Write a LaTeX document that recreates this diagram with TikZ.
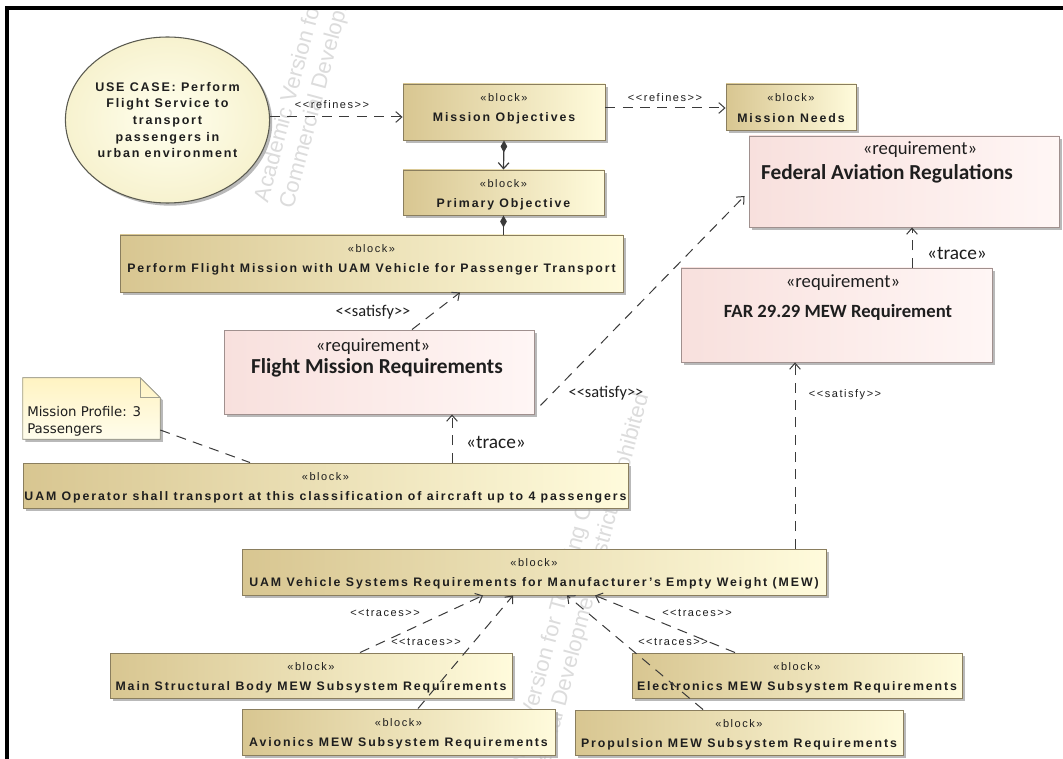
\documentclass[tikz,border=0pt]{standalone}
\usepackage{fontspec}
\newfontfamily\tahf{Liberation Sans}[LetterSpace=14]
\newfontfamily\tahtf{Liberation Sans}[LetterSpace=15.5]
\newfontfamily\calibf{Carlito}
\newfontfamily\dvsf{DejaVu Sans}
\newfontfamily\wmf{Liberation Sans}
\usetikzlibrary{shapes.geometric,arrows.meta,shadows,calc}
\definecolor{blkL}{HTML}{D8C691}
\definecolor{blkR}{HTML}{FFFBDC}
\definecolor{blkB}{HTML}{8A7E5E}
\definecolor{reqL}{HTML}{F8E0DD}
\definecolor{reqR}{HTML}{FFF6F5}
\definecolor{reqB}{HTML}{A0908E}
\definecolor{ucIn}{HTML}{FFFFEE}
\definecolor{ucOut}{HTML}{F7F2CF}
\definecolor{ucB}{HTML}{5A5A50}
\definecolor{noteT}{HTML}{FFF3C2}
\definecolor{noteBo}{HTML}{FFFDEC}
\definecolor{noteB}{HTML}{A09F90}
\definecolor{shad}{HTML}{A8A8A8}
\definecolor{linec}{HTML}{3A3A3A}
\definecolor{wmc}{HTML}{DCDCDC}
\definecolor{txt}{HTML}{1E1E1E}
\tikzset{
 shd/.style={drop shadow={shadow xshift=2pt,shadow yshift=-2pt,fill=shad,opacity=.8}},
 blkbox/.style={draw=blkB,line width=.7pt,left color=blkL,right color=blkR,shd,inner sep=0pt},
 reqbox/.style={draw=reqB,line width=.7pt,left color=reqL,right color=reqR,shd,inner sep=0pt},
 blkst/.style={inner sep=0pt,text=txt,font=\tahf\fontsize{8.25}{10}\selectfont},
 blkti/.style={inner sep=0pt,text=txt,font=\tahtf\bfseries\fontsize{9.25}{11}\selectfont},
 reqst/.style={inner sep=0pt,text=txt,font=\calibf\fontsize{14}{16}\selectfont},
 reqti/.style={inner sep=0pt,text=txt,font=\calibf\bfseries\fontsize{16}{18}\selectfont},
 smlbl/.style={inner sep=0pt,text=txt,font=\tahf\fontsize{8.25}{10}\selectfont},
 satlbl/.style={inner sep=0pt,text=txt,font=\calibf\fontsize{12.3}{14}\selectfont},
 trlbl/.style={inner sep=0pt,text=txt,font=\calibf\fontsize{14.5}{16}\selectfont},
 dep/.style={draw=linec,line width=.75pt,dash pattern=on 7.5pt off 5.5pt,arrows={-Straight Barb[length=4.5pt,width=8pt]}},
 notel/.style={draw=linec,line width=.75pt,dash pattern=on 7.5pt off 5.5pt},
 comp/.style={draw=linec,line width=.9pt,arrows={Diamond[length=9pt,width=5pt]-Straight Barb[length=4.5pt,width=8pt]}},
 compb/.style={draw=linec,line width=.9pt,arrows={Diamond[length=9pt,width=5pt]-}},
 wm/.style={inner sep=0pt,text=wmc,align=left,font=\wmf\fontsize{16.5}{19.5}\selectfont,rotate=75,anchor=base west},
}
\newcommand\umlblock[6]{%
 \node[blkbox,minimum width={(#4-#2)*0.75pt},minimum height={(#5-#3)*0.75pt}] (#1) at ({(#2+#4)/2},{(#3+#5)/2}) {};
 \node[blkst] (#1s) at ({(#2+#4)/2},{#3+14}) {«block»};
 \node[blkti] (#1t) at ({(#2+#4)/2},{#3+34}) {#6};}
\newcommand\umlreq[5]{%
 \node[reqbox,minimum width={(#4-#2)*0.75pt},minimum height={(#5-#3)*0.75pt}] (#1) at ({(#2+#4)/2},{(#3+#5)/2}) {};}
\begin{document}
\begin{tikzpicture}[x=0.75pt,y=-0.75pt]
\useasboundingbox (0,0) rectangle (1063,759);
\fill[white] (0,0) rectangle (1063,759);
% watermark
\begin{scope}
\clip (9,10) rectangle (1063,759);
\node[wm] (wm1) at (293,210) {Academic Version for Teaching Only\\Commercial Development is strictly prohibited};
\node[wm] (wm2) at (533,827) {Academic Version for Teaching Only\\Commercial Development is strictly prohibited};
\end{scope}
% use case
\node[ellipse,draw=ucB,line width=.8pt,inner color=ucIn,outer color=ucOut,shd,minimum width=143.25pt,minimum height=124.5pt,inner sep=0pt,align=center,text=txt,font=\tahf\bfseries\fontsize{9.4}{12.5}\selectfont] (uc) at (167.5,120) {USE CASE: Perform\\Flight Service to\\transport\\passengers in\\urban environment};
% blocks
\umlblock{MO}{403}{84}{605}{140}{Mission Objectives}
\umlblock{MN}{726}{84}{856}{130}{Mission Needs}
\umlblock{PO}{403}{170}{604}{215}{Primary Objective}
\umlblock{PFM}{120}{235}{623}{292}{Perform Flight Mission with UAM Vehicle for Passenger Transport}
\umlblock{UOP}{23}{463}{628}{508}{UAM Operator shall transport at this classification of aircraft up to 4 passengers}
\umlblock{UV}{242}{549}{826}{595}{UAM Vehicle Systems Requirements for Manufacturer’s Empty Weight (MEW)}
\umlblock{MSB}{110}{653}{512}{698}{Main Structural Body MEW Subsystem Requirements}
\umlblock{AV}{242}{709}{555}{755}{Avionics MEW Subsystem Requirements}
\umlblock{EL}{632}{653}{962}{698}{Electronics MEW Subsystem Requirements}
\umlblock{PR}{575}{710}{903}{755}{Propulsion MEW Subsystem Requirements}
% requirements
\umlreq{FAR}{749}{136}{1059}{227}
\node[reqst] (FARs) at (920,150) {«requirement»};
\node[reqti] (FARt) at (887,174) {Federal Aviation Regulations};
\umlreq{F29}{681}{268}{992}{362}
\node[reqst] (F29s) at (843,283) {«requirement»};
\node[reqti,font=\calibf\bfseries\fontsize{14}{16}\selectfont] (F29t) at (838,312) {FAR 29.29 MEW Requirement};
\umlreq{FMR}{224}{330}{534}{414}
\node[reqst] (FMRs) at (373,347) {«requirement»};
\node[reqti] (FMRt) at (377,368) {Flight Mission Requirements};
% note
\node[minimum width={137*0.75pt},minimum height={61*0.75pt},inner sep=0pt] (note) at (91.5,408.5) {};
\filldraw[draw=noteB,line width=.7pt,top color=noteT,bottom color=noteBo,shd] (note.north west) -- ([xshift=-15pt]note.north east) -- ([yshift=-15pt]note.north east) -- (note.south east) -- (note.south west) -- cycle;
\draw[noteB,line width=.7pt] ([xshift=-15pt]note.north east) -- ([xshift=-15pt,yshift=-15pt]note.north east) -- ([yshift=-15pt]note.north east);
\node[anchor=west,inner sep=0pt,align=left,text=txt,font=\dvsf\fontsize{10}{12.75}\selectfont] (notet) at (27,421) {Mission Profile: 3\\Passengers};
% connectors
\draw[dep] (uc.east |- 0,117) -- (MO.west |- 0,117);
\node[smlbl] (lref1) at (332,105) {<{}<refines>{}>};
\draw[dep] (MO.east |- 0,108) -- (MN.west |- 0,108);
\node[smlbl] (lref2) at (665,98) {<{}<refines>{}>};
\draw[comp] (MO.south) -- (PO.north);
\draw[compb] (PO.south) -- (PO.south |- PFM.north);
\draw[dep] (412,0 |- FMR.north) -- (460,0 |- PFM.south);
\node[satlbl] (lsat1) at (373,312) {<{}<satisfy>{}>};
\draw[dep] ($(FMR.south east)+(6,-9)$) -- ($(FAR.west)+(-4,14.5)$);
\node[satlbl] (lsat2) at (606,393) {<{}<satisfy>{}>};
\draw[dep] (452,0 |- UOP.north) -- (452,0 |- FMR.south);
\node[trlbl] (ltr1) at (496,442) {«trace»};
\draw[notel] (note.east |- 0,430) -- (250,0 |- UOP.north);
\draw[dep] (912,0 |- F29.north) -- (912,0 |- FAR.south);
\node[trlbl] (ltr2) at (957,253) {«trace»};
\draw[dep] (795,0 |- UV.north) -- (795,0 |- F29.south);
\node[smlbl] (lsat3) at (845,395) {<{}<satisfy>{}>};
\draw[dep] (360,0 |- MSB.north) -- (483,0 |- UV.south);
\node[smlbl] (ltc1) at (385,613) {<{}<traces>{}>};
\draw[dep] (418,0 |- AV.north) -- (513,0 |- UV.south);
\node[smlbl] (ltc2) at (426,642) {<{}<traces>{}>};
\draw[dep] (703,0 |- PR.north) -- (567,0 |- UV.south);
\node[smlbl] (ltc4) at (673,642) {<{}<traces>{}>};
\draw[dep] (735,0 |- EL.north) -- (595,0 |- UV.south);
\node[smlbl] (ltc3) at (697,613) {<{}<traces>{}>};
% frame
\draw[line width=2.3pt,black] (7,759) -- (7,8) -- (1063,8);
\end{tikzpicture}
\end{document}
